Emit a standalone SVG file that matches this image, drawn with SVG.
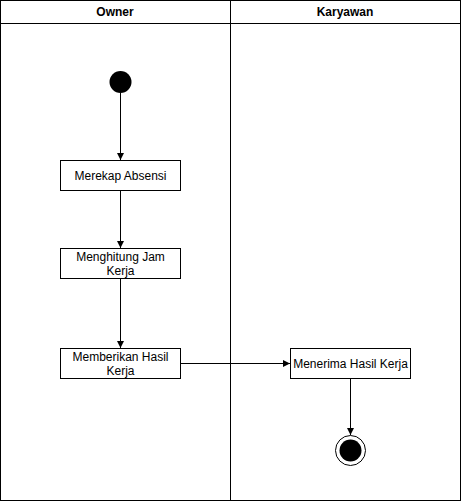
<svg xmlns="http://www.w3.org/2000/svg" width="461" height="502" viewBox="0 0 461 502">
<style>
text{font-family:"Liberation Sans",Arial,sans-serif;font-size:12px;fill:#000;text-anchor:middle}
.h{font-weight:bold}
.box{fill:#fff;stroke:#000;stroke-width:1}
.ln{stroke:#000;stroke-width:1;fill:none}
</style>
<defs>
<marker id="a" markerWidth="8" markerHeight="8" refX="7" refY="4" orient="auto" markerUnits="userSpaceOnUse">
<path d="M0,0.5 L7,4 L0,7.5 Z" fill="#000"/>
</marker>
</defs>
<g id="pool">
<rect x="0.5" y="0.5" width="460" height="500" class="box"/>
<line x1="0.5" y1="23.5" x2="460.5" y2="23.5" class="ln"/>
<line x1="230.5" y1="0.5" x2="230.5" y2="500.5" class="ln"/>
<text x="115" y="16" class="h">Owner</text>
<text x="345" y="16" class="h">Karyawan</text>
</g>
<g id="connectors">
<line x1="120.5" y1="93" x2="120.5" y2="160" class="ln" marker-end="url(#a)"/>
<line x1="120.5" y1="190" x2="120.5" y2="248" class="ln" marker-end="url(#a)"/>
<line x1="120.5" y1="278" x2="120.5" y2="348" class="ln" marker-end="url(#a)"/>
<line x1="180" y1="363.5" x2="290" y2="363.5" class="ln" marker-end="url(#a)"/>
<line x1="350.5" y1="378" x2="350.5" y2="435" class="ln" marker-end="url(#a)"/>
</g>
<g id="start"><circle cx="120.5" cy="82" r="11" fill="#000"/></g>
<g id="n1"><rect x="60.5" y="160.5" width="120" height="30" class="box"/><text x="120.5" y="179.5">Merekap Absensi</text></g>
<g id="n2"><rect x="60.5" y="248.5" width="120" height="30" class="box"/><text x="120.5" y="261">Menghitung Jam</text><text x="120.5" y="275">Kerja</text></g>
<g id="n3"><rect x="60.5" y="348.5" width="120" height="30" class="box"/><text x="120.5" y="361">Memberikan Hasil</text><text x="120.5" y="375">Kerja</text></g>
<g id="n4"><rect x="290.5" y="348.5" width="120" height="30" class="box"/><text x="350.5" y="367.5">Menerima Hasil Kerja</text></g>
<g id="end"><circle cx="350.5" cy="450.5" r="15" fill="#fff" stroke="#000"/><circle cx="350.5" cy="450.5" r="11" fill="#000"/></g>
</svg>
